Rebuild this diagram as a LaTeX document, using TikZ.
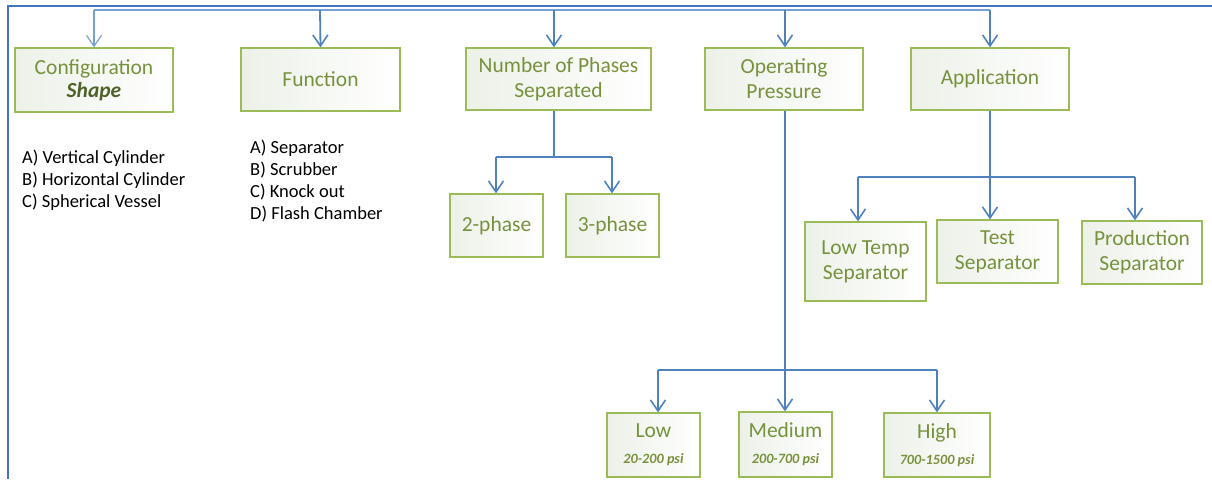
\documentclass[tikz,border=0pt]{standalone}
\usepackage{fontspec}
\setmainfont{Carlito}
\usetikzlibrary{arrows.meta}
\definecolor{conn}{RGB}{79,129,189}
\definecolor{connlight}{RGB}{120,160,210}
\definecolor{frameblue}{RGB}{68,114,196}
\definecolor{boxline}{RGB}{155,187,89}
\definecolor{boxtext}{RGB}{118,146,60}
\definecolor{darkgreen}{RGB}{79,98,40}
\definecolor{boxfill}{RGB}{236,241,232}
\newcommand{\subtxt}[1]{{\fontsize{14.2}{16}\selectfont\bfseries\itshape #1}}
\tikzset{
  box/.style={draw=boxline, line width=1.3pt, left color=boxfill, right color=white,
    text=boxtext, font=\fontsize{21.5}{25}\selectfont, align=center, inner sep=0pt},
  link/.style={draw=conn, line width=1.8pt},
  arr/.style={link, -{Straight Barb[length=11pt,width=15pt,line width=1.6pt]}},
  listtext/.style={anchor=north west, align=left, font=\fontsize{18.5}{22}\selectfont, inner sep=0pt}
}
\begin{document}
\begin{tikzpicture}[x=1pt,y=-1pt]
\useasboundingbox (0,0) rectangle (1212,479);
% frame
\draw[frameblue, line width=2.5pt] (8,479) -- (8,6) -- (1212,6);
% top level boxes
\node[box, minimum width=158pt, minimum height=64pt] (conf) at (94,80) {Configuration\\[-2pt]{\color{darkgreen}\bfseries\itshape Shape}};
\node[box, minimum width=159pt, minimum height=63pt] (func) at (320.5,79.5) {Function};
\node[box, minimum width=185pt, minimum height=62pt] (phase) at (558.5,79) {Number of Phases\\Separated};
\node[box, minimum width=158pt, minimum height=62pt] (press) at (784,79) {Operating\\Pressure};
\node[box, minimum width=158pt, minimum height=62pt] (app) at (990,79) {Application};
% second level
\node[box, minimum width=93pt, minimum height=63pt] (two) at (496.5,225.5) {2-phase};
\node[box, minimum width=93pt, minimum height=63pt] (three) at (612.5,225.5) {3-phase};
\node[box, minimum width=121pt, minimum height=79pt] (lowt) at (865.5,261.5) {Low Temp\\Separator};
\node[box, minimum width=121pt, minimum height=63pt] (test) at (997.5,251.5) {Test\\Separator};
\node[box, minimum width=120pt, minimum height=63pt] (prod) at (1142,252.5) {Production\\Separator};
\node[box, minimum width=93pt, minimum height=64pt] (low) at (653.5,445) {Low\\[1pt]\subtxt{20-200 psi}};
\node[box, minimum width=93pt, minimum height=65pt] (med) at (785.5,444.5) {Medium\\[1pt]\subtxt{200-700 psi}};
\node[box, minimum width=106pt, minimum height=64pt] (high) at (937,445) {High\\[1pt]\subtxt{700-1500 psi}};
% lists
\node[listtext] (conflist) at (22,150) {A) Vertical Cylinder\\B) Horizontal Cylinder\\C) Spherical Vessel};
\node[listtext] (funclist) at (250,140) {A) Separator\\B) Scrubber\\C) Knock out\\D) Flash Chamber};
% top connectors
\coordinate (t1) at (94,10);
\coordinate (t2) at (320,10);
\coordinate (t3) at (554,10);
\coordinate (t4) at (785,10);
\coordinate (t5) at (990,10);
\draw[connlight, line width=1.5pt] (t1) -- (t5);
\draw[connlight, line width=1.2pt, -{Straight Barb[length=11pt,width=15pt,line width=1.2pt]}] (t1) -- (conf.north);
\draw[arr] (t2) -- (func.north);
\draw[arr] (t3) -- (t3 |- phase.north);
\draw[arr] (t4) -- (t4 |- press.north);
\draw[arr] (t5) -- (app.north);
% phases
\coordinate (p0) at (554,157);
\coordinate (p1) at (496,157);
\coordinate (p2) at (612,157);
\draw[link] (p0 |- phase.south) -- (p0);
\draw[link] (p1) -- (p2);
\draw[arr] (p1) -- (p1 |- two.north);
\draw[arr] (p2) -- (p2 |- three.north);
% application
\coordinate (a0) at (990,177);
\coordinate (a1) at (858,177);
\coordinate (a2) at (1135,177);
\draw[link] (app.south) -- (a0);
\draw[link] (a1) -- (a2);
\draw[arr] (a1) -- (a1 |- lowt.north);
\draw[arr] (a0) -- (a0 |- test.north);
\draw[arr] (a2) -- (a2 |- prod.north);
% pressure
\coordinate (q0) at (785,370);
\coordinate (q1) at (658,370);
\coordinate (q2) at (937,370);
\draw[link] (q0 |- press.south) -- (q0);
\draw[link] (q1) -- (q2);
\draw[arr] (q1) -- (q1 |- low.north);
\draw[arr] (q0) -- (q0 |- med.north);
\draw[arr] (q2) -- (high.north);
\end{tikzpicture}
\end{document}
